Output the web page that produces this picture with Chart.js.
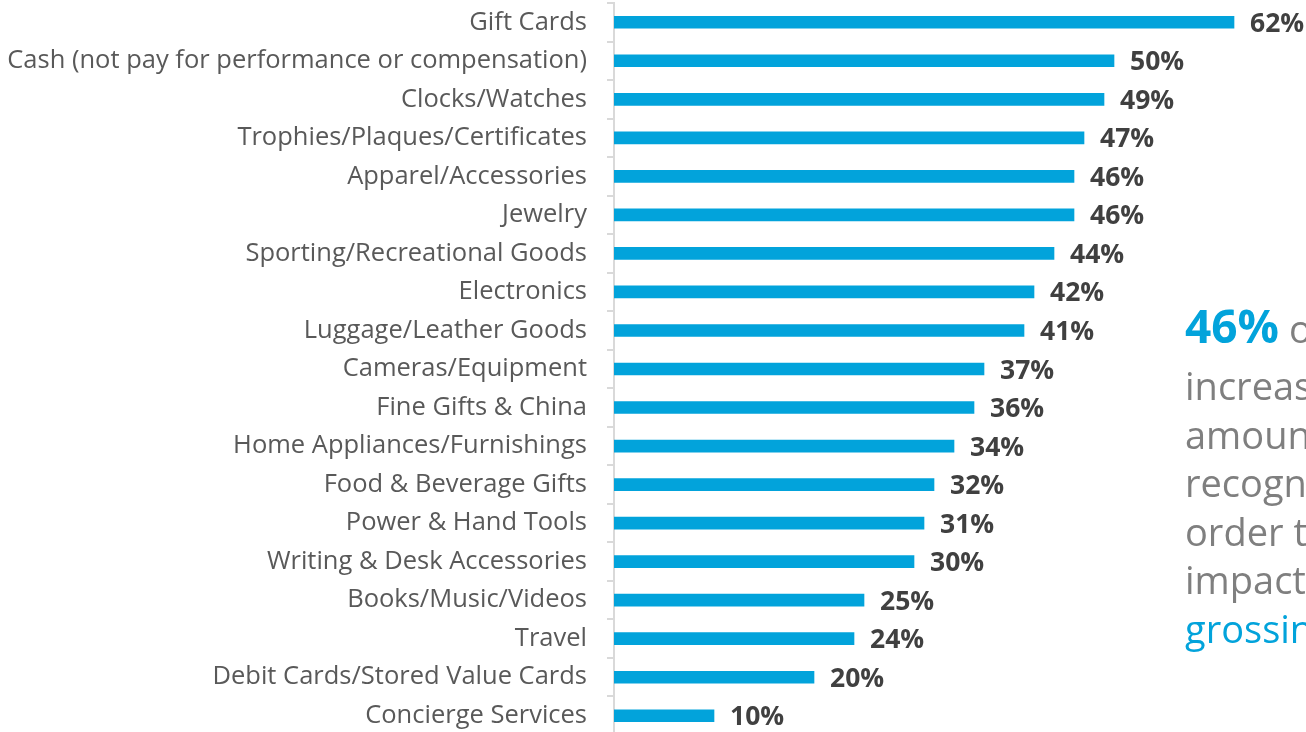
<!DOCTYPE html>
<html>
<head>
<meta charset="utf-8">
<script src="https://cdn.jsdelivr.net/npm/chart.js@4.4.1/dist/chart.umd.min.js"></script>
<style>
  html, body { margin: 0; padding: 0; background: #fff; overflow: hidden; width: 1306px; height: 732px; }
  #wrap { position: absolute; left: 0; top: 0; width: 1306px; height: 738px; }
</style>
</head>
<body>
<div id="wrap"><canvas id="c" width="1306" height="738"></canvas></div>
<script>
const categories = [
  "Gift Cards",
  "Cash (not pay for performance or compensation)",
  "Clocks/Watches",
  "Trophies/Plaques/Certificates",
  "Apparel/Accessories",
  "Jewelry",
  "Sporting/Recreational Goods",
  "Electronics",
  "Luggage/Leather Goods",
  "Cameras/Equipment",
  "Fine Gifts & China",
  "Home Appliances/Furnishings",
  "Food & Beverage Gifts",
  "Power & Hand Tools",
  "Writing & Desk Accessories",
  "Books/Music/Videos",
  "Travel",
  "Debit Cards/Stored Value Cards",
  "Concierge Services"
];
const percentages = [62, 50, 49, 47, 46, 46, 44, 42, 41, 37, 36, 34, 32, 31, 30, 25, 24, 20, 10];

const noteHighlight = "46%";
const noteLines = [
  " of companies",
  "increased the",
  "amount spent on",
  "recognition in",
  "order to make an",
  "impact on top-",
  "grossing employees"
];

const valueLabels = {
  id: 'valueLabels',
  afterDatasetsDraw(chart) {
    const ctx = chart.ctx;
    const meta = chart.getDatasetMeta(0);
    ctx.save();
    ctx.font = 'bold 26.5px "Open Sans", sans-serif';
    ctx.fillStyle = '#404040';
    ctx.textAlign = 'left';
    ctx.textBaseline = 'middle';
    meta.data.forEach((bar, i) => {
      ctx.fillText(percentages[i] + '%', bar.x + 16, bar.y + 2);
    });
    ctx.restore();
  }
};

const sideNote = {
  id: 'sideNote',
  afterDraw(chart) {
    const ctx = chart.ctx;
    const x0 = 1185;
    ctx.save();
    ctx.textAlign = 'left';
    ctx.textBaseline = 'alphabetic';
    ctx.font = 'bold 46px "Open Sans", sans-serif';
    ctx.fillStyle = '#02a3db';
    ctx.fillText(noteHighlight, x0, 343);
    const w = ctx.measureText(noteHighlight).width;
    ctx.font = '38px "Open Sans", sans-serif';
    ctx.fillStyle = '#7f7f7f';
    ctx.fillText(noteLines[0], x0 + w, 343);
    for (let i = 1; i < noteLines.length; i++) {
      ctx.fillStyle = i === noteLines.length - 1 ? '#02a3db' : '#7f7f7f';
      ctx.fillText(noteLines[i], x0, 400 + (i - 1) * 48.6);
    }
    ctx.restore();
  }
};

new Chart(document.getElementById('c'), {
  type: 'bar',
  data: {
    labels: categories,
    datasets: [{
      data: percentages,
      backgroundColor: '#02a3db',
      borderWidth: 0,
      barThickness: 12
    }]
  },
  options: {
    indexAxis: 'y',
    responsive: false,
    animation: false,
    layout: { padding: { top: 3, bottom: 3, left: 0, right: 2 } },
    plugins: { legend: { display: false }, tooltip: { enabled: false } },
    scales: {
      x: { display: false, min: 0, max: 69 },
      y: {
        afterFit(scale) { scale.width = 614; scale.paddingTop = 0; scale.paddingBottom = 0; },
        grid: { offset: true, drawOnChartArea: false, drawTicks: true, tickLength: 7, color: '#d9d9d9', lineWidth: 2 },
        border: { display: true, color: '#d9d9d9', width: 2 },
        ticks: { padding: 20, color: '#595959', font: { family: '"Open Sans", sans-serif', size: 25.5 } }
      }
    }
  },
  plugins: [valueLabels, sideNote]
});
</script>
</body>
</html>
